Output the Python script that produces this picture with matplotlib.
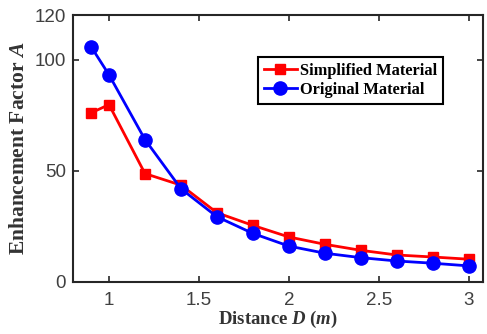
import matplotlib
matplotlib.use("Agg")
import matplotlib.pyplot as plt

distance = [0.9, 1.0, 1.2, 1.4, 1.6, 1.8, 2.0, 2.2, 2.4, 2.6, 2.8, 3.0]
simplified = [76.0, 79.7, 48.7, 43.5, 31.1, 25.4, 20.2, 16.9, 14.2, 12.1, 11.2, 10.2]
original = [105.8, 93.1, 64.0, 41.9, 29.3, 21.8, 16.1, 12.9, 10.9, 9.4, 8.4, 7.2]
xticks = [1, 1.5, 2, 2.5, 3]
yticks = [0, 50, 100, 120]

plt.rcParams['mathtext.fontset'] = 'custom'
plt.rcParams['mathtext.it'] = 'Liberation Serif:italic:bold'
plt.rcParams['mathtext.rm'] = 'Liberation Serif:bold'

fig = plt.figure(figsize=(4.87, 3.34), dpi=100)
ax = fig.add_axes([0.150, 0.156, 0.842, 0.799])

ax.plot(distance, simplified, color='#ff0000', lw=2, marker='s', ms=7, label='Simplified Material')
ax.plot(distance, original, color='#0000ff', lw=2, marker='o', ms=9.5, label='Original Material')

ax.set_xlim(0.8, 3.08)
ax.set_ylim(0, 120)
ax.set_xticks(xticks)
ax.set_xticklabels(['1', '1.5', '2', '2.5', '3'])
ax.set_yticks(yticks)
ax.tick_params(direction='in', top=True, right=True, length=4, width=1.2,
               labelsize=13.5, colors='#262626')
ax.tick_params(axis='x', pad=7)
ax.tick_params(axis='y', pad=5)
for lab in ax.get_xticklabels() + ax.get_yticklabels():
    lab.set_fontfamily('Liberation Sans')
    lab.set_color('#404040')
for s in ax.spines.values():
    s.set_linewidth(1.5)
    s.set_color('#262626')

ax.set_xlabel('Distance $D$ ($m$)', fontfamily='Liberation Serif', fontweight='bold',
              fontsize=13.5, labelpad=0, color='#333333')
ax.set_ylabel('Enhancement Factor $A$', fontfamily='Liberation Serif', fontweight='bold',
              fontsize=15.5, labelpad=4, color='#333333')

leg = ax.legend(loc='upper right', bbox_to_anchor=(0.902, 0.843), fancybox=False,
                edgecolor='black', framealpha=1, handlelength=2.0, handletextpad=0.2,
                borderpad=0.35, labelspacing=0.2, borderaxespad=0,
                prop={'family': 'Liberation Serif', 'weight': 'bold', 'size': 11.8})
leg.get_frame().set_linewidth(1.5)

fig.savefig('out.png', dpi=100)
